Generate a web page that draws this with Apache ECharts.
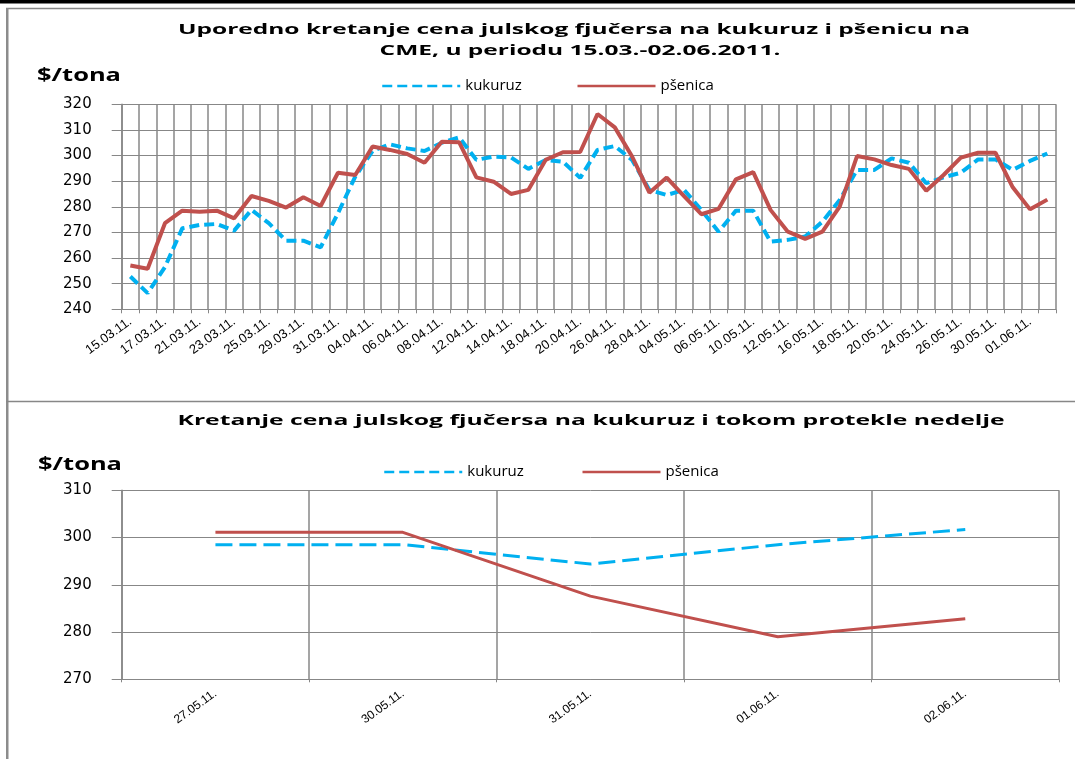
<!DOCTYPE html>
<html>
<head>
<meta charset="utf-8">
<script src="https://cdn.jsdelivr.net/npm/echarts@6.0.0/dist/echarts.min.js"></script>
<style>html,body{margin:0;padding:0;background:#fff}#main{width:1075px;height:759px}</style>
</head>
<body>
<div id="main"></div>
<script>
// ---- data ----
const categories = ['15.03.11.','16.03.11.','17.03.11.','18.03.11.','21.03.11.','22.03.11.','23.03.11.','24.03.11.','25.03.11.','28.03.11.',
 '29.03.11.','30.03.11.','31.03.11.','01.04.11.','04.04.11.','05.04.11.','06.04.11.','07.04.11.','08.04.11.','11.04.11.',
 '12.04.11.','13.04.11.','14.04.11.','15.04.11.','18.04.11.','19.04.11.','20.04.11.','21.04.11.','26.04.11.','27.04.11.',
 '28.04.11.','29.04.11.','04.05.11.','05.05.11.','06.05.11.','09.05.11.','10.05.11.','11.05.11.','12.05.11.','13.05.11.',
 '16.05.11.','17.05.11.','18.05.11.','19.05.11.','20.05.11.','23.05.11.','24.05.11.','25.05.11.','26.05.11.','27.05.11.',
 '30.05.11.','31.05.11.','01.06.11.','02.06.11.'];
const kukuruz = [252.8,246.3,256.5,271.6,272.9,273.3,270.7,278.8,273.6,266.8,
 266.8,264.2,277.5,291.8,301.8,304.4,302.8,301.8,305.0,307.1,
 298.3,299.6,299.3,294.8,298.3,297.6,291.3,302.2,303.7,298.3,
 286.6,284.6,286.6,278.8,270.3,278.5,278.5,266.4,267.1,268.4,
 274.2,282.7,294.4,294.4,298.9,297.2,289.2,291.5,293.3,298.5,
 298.5,294.4,297.9,300.8];
const psenica = [257.1,255.8,273.6,278.5,278.1,278.5,275.5,284.2,282.3,279.7,
 283.7,280.3,293.3,292.4,303.5,302.2,300.6,297.2,305.4,305.2,
 291.5,289.8,285.0,286.6,298.3,301.3,301.4,316.2,311.0,299.6,
 285.5,291.4,284.2,277.1,279.2,290.7,293.5,278.8,270.3,267.5,
 270.3,280.1,299.8,298.5,296.3,294.8,286.3,292.4,299.2,301.1,
 301.1,287.6,279.0,282.8];
const weekCategories = ['27.05.11.','30.05.11.','31.05.11.','01.06.11.','02.06.11.'];
const weekKukuruz = [298.5,298.5,294.4,298.5,301.7];
const weekPsenica = [301.1,301.1,287.6,279.0,282.8];
const topTicks = {min:240, max:320, interval:10};
const bottomTicks = {min:270, max:310, interval:10};
const title1a = 'Uporedno kretanje cena julskog fjučersa na kukuruz i pšenicu na';
const title1b = 'CME, u periodu 15.03.-02.06.2011.';
const title2 = 'Kretanje cena julskog fjučersa na kukuruz i tokom protekle nedelje';
const unitLabel = '$/tona';

// ---- helpers ----
const ctx = document.createElement('canvas').getContext('2d');
function textW(t, font){ ctx.font = font; return ctx.measureText(t).width; }
const titleFont = 'bold 14px "Open Sans"';
const unitFont = 'bold 17px "Open Sans"';
const legendFont = '15px "Open Sans"';
const sTitle1 = 792 / textW(title1a, titleFont);
const sTitle2 = 827 / textW(title2, titleFont);
const sUnit = 84 / textW(unitLabel, unitFont);
const kW = textW('kukuruz', legendFont);
const gapTop = 570 - (376 + 78 + 5 + kW);
const gapBot = 575 - (378 + 78 + 5 + kW);

function txt(text, x, y, font, s){
  return {type:'text', x:x, y:y, scaleX:s, silent:true,
    style:{text:text, font:font, fill:'#000', align:'center', verticalAlign:'middle', textAlign:'center', textVerticalAlign:'middle'}};
}
const gray = '#878787';
const red = '#C0504D';
const blue = '#00B0F0';

const chart = echarts.init(document.getElementById('main'), null, {renderer:'canvas'});
const axisLabelX = {rotate:36, fontSize:13, fontFamily:'Liberation Sans', color:'#000', margin:11};
const axisLabelY = {fontSize:15, fontFamily:'DejaVu Sans', color:'#000', margin:30};
const legendBase = {itemWidth:78, itemHeight:14, data:['kukuruz','pšenica'], selectedMode:false,
  itemStyle:{opacity:0, borderWidth:0}, lineStyle:{width:2.5},
  textStyle:{fontFamily:'Open Sans', fontSize:15, color:'#000'}};

chart.setOption({
  animation:false,
  backgroundColor:'#fff',
  graphic:[
    {type:'rect', shape:{x:0,y:0,width:1075,height:3.5}, style:{fill:'#000'}, silent:true},
    {type:'line', shape:{x1:6,y1:8.5,x2:1075,y2:8.5}, style:{stroke:gray, lineWidth:1.5}, silent:true},
    {type:'rect', shape:{x:6,y:8,width:2.5,height:751}, style:{fill:'#8c8c8c'}, silent:true},
    {type:'line', shape:{x1:6,y1:401.5,x2:1075,y2:401.5}, style:{stroke:gray, lineWidth:1.5}, silent:true},
    txt(title1a, 574, 30, titleFont, sTitle1),
    txt(title1b, 580, 51, titleFont, sTitle1),
    txt(title2, 591, 421, titleFont, sTitle2),
    txt(unitLabel, 79, 76, unitFont, sUnit),
    txt(unitLabel, 80, 465, unitFont, sUnit)
  ],
  legend:[
    Object.assign({left:376, top:73.5, itemGap:gapTop}, legendBase),
    Object.assign({left:378, top:459.5, itemGap:gapBot}, legendBase)
  ],
  grid:[
    {left:121.7, right:19, top:104.3, bottom:449.7, containLabel:false, outerBoundsMode:'none'},
    {left:121.7, right:16, top:490.3, bottom:79.7, containLabel:false, outerBoundsMode:'none'}
  ],
  xAxis:[
    {type:'category', gridIndex:0, data:categories, boundaryGap:true,
     axisLine:{lineStyle:{color:gray, width:1}},
     axisTick:{show:true, interval:0, length:4, lineStyle:{color:gray}},
     axisLabel:Object.assign({interval:1}, axisLabelX),
     splitLine:{show:true, interval:0, lineStyle:{color:gray, width:1.5}}},
    {type:'category', gridIndex:1, data:weekCategories, boundaryGap:true,
     axisLine:{lineStyle:{color:gray, width:1}},
     axisTick:{show:true, interval:0, length:3, lineStyle:{color:gray}},
     axisLabel:Object.assign({interval:0}, axisLabelX, {fontSize:12, margin:13}),
     splitLine:{show:true, interval:0, lineStyle:{color:gray, width:1.5}}}
  ],
  yAxis:[
    {type:'value', gridIndex:0, min:topTicks.min, max:topTicks.max, interval:topTicks.interval,
     axisLine:{show:true, lineStyle:{color:gray, width:1.5}},
     axisTick:{show:true, length:10, lineStyle:{color:gray}},
     axisLabel:axisLabelY,
     splitLine:{show:true, lineStyle:{color:gray, width:1}}},
    {type:'value', gridIndex:1, min:bottomTicks.min, max:bottomTicks.max, interval:bottomTicks.interval,
     axisLine:{show:true, lineStyle:{color:gray, width:1.5}},
     axisTick:{show:true, length:10, lineStyle:{color:gray}},
     axisLabel:axisLabelY,
     splitLine:{show:true, lineStyle:{color:gray, width:1}}}
  ],
  series:[
    {name:'kukuruz', type:'line', xAxisIndex:0, yAxisIndex:0, data:kukuruz, symbol:'none',
     lineStyle:{color:blue, width:4, type:[10,5]}, itemStyle:{color:blue}},
    {name:'pšenica', type:'line', xAxisIndex:0, yAxisIndex:0, data:psenica, symbol:'none',
     lineStyle:{color:red, width:4}, itemStyle:{color:red}},
    {name:'kukuruz', type:'line', xAxisIndex:1, yAxisIndex:1, data:weekKukuruz, symbol:'none',
     lineStyle:{color:blue, width:3, type:[17,7]}, itemStyle:{color:blue}},
    {name:'pšenica', type:'line', xAxisIndex:1, yAxisIndex:1, data:weekPsenica, symbol:'none',
     lineStyle:{color:red, width:3}, itemStyle:{color:red}}
  ]
});
</script>
</body>
</html>
